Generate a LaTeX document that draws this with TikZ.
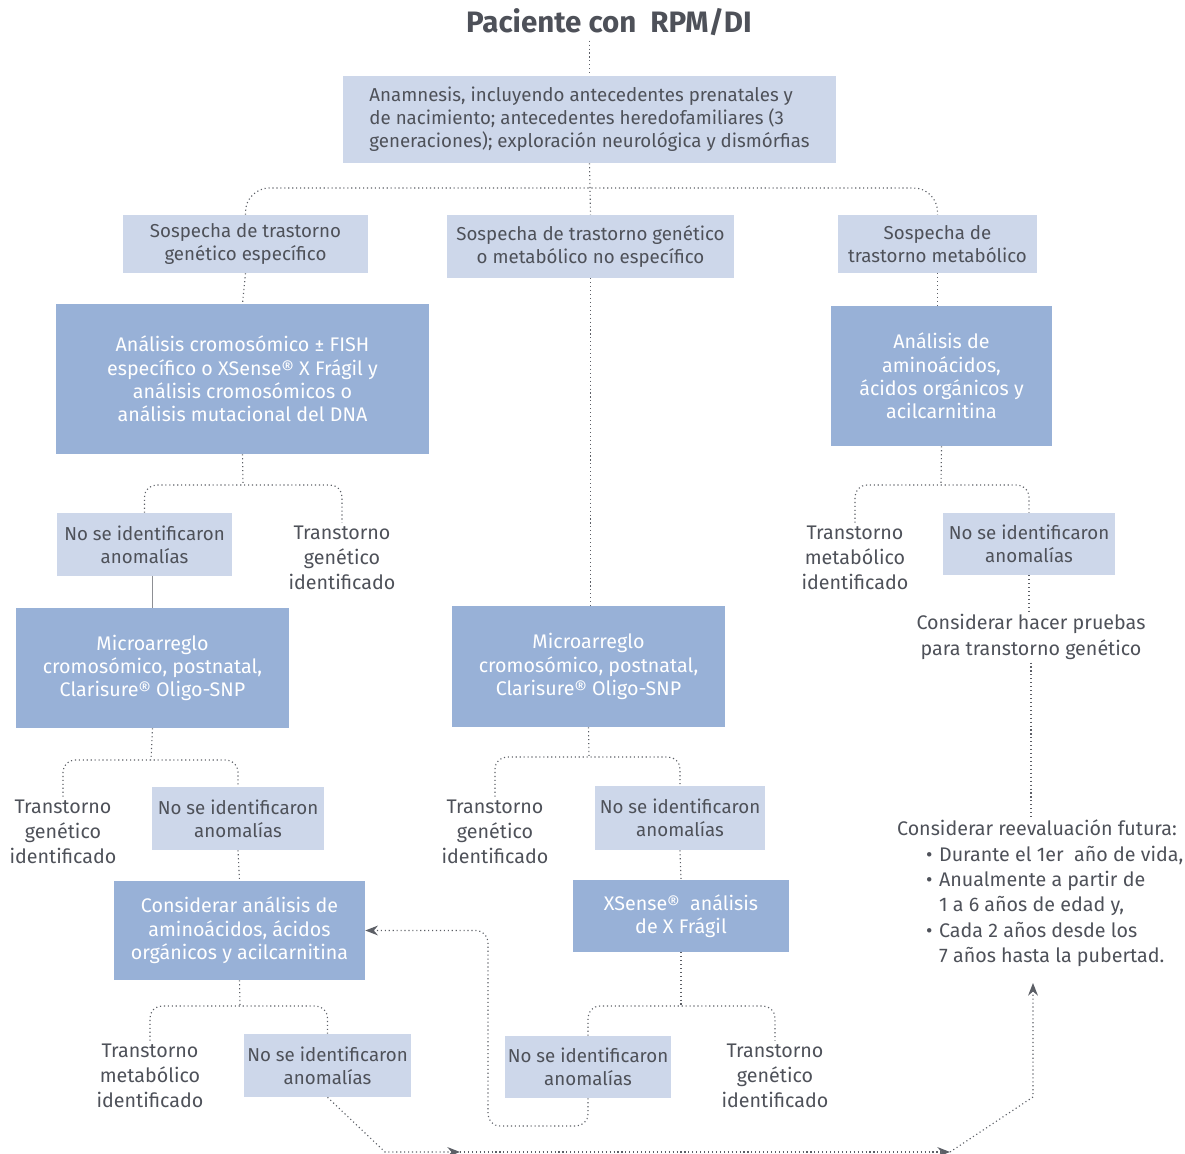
\documentclass[tikz,border=0pt]{standalone}
\usepackage{fontspec}
\setmainfont{Fira Sans}
\usetikzlibrary{arrows.meta}

\definecolor{boxlight}{HTML}{CDD7EA}
\definecolor{boxdark}{HTML}{98B1D7}
\definecolor{txtgray}{HTML}{4E5159}
\definecolor{lngray}{HTML}{5C5F66}

\begin{document}
\begin{tikzpicture}[x=0.025cm, y=-0.025cm,
    lbox/.style={fill=boxlight, text=txtgray, align=center, inner sep=2pt,
      font=\fontsize{13.3}{16.3}\selectfont},
    dbox/.style={fill=boxdark, text=white, align=center, inner sep=2pt,
      font=\fontsize{14}{16.6}\selectfont},
    lbl/.style={text=txtgray, align=center, inner sep=2pt,
      font=\fontsize{14}{18}\selectfont},
    dot/.style={lngray, line width=0.8pt, dash pattern=on 0.8pt off 2pt},
    fork/.style={dot, rounded corners=0.3cm},
    arr/.style={dot, -{Stealth[length=9pt, width=7pt]}},
  ]
  \useasboundingbox (0,0) rectangle (1185,1154);

  % top
  \node[text=txtgray, font=\fontsize{21}{24}\selectfont\bfseries] (title) at (609,22) {Paciente con\ \ RPM/DI};
  \node[lbox, align=left, minimum width=12.325cm, minimum height=2.175cm] (anam) at (589.5,119.5)
    {Anamnesis, incluyendo antecedentes prenatales y\\de nacimiento; antecedentes heredofamiliares (3\\generaciones); exploración neurológica y dismórfias};
  \draw[dot] (anam.north |- title.south) -- (anam.north);

  % sospecha row
  \node[lbox, minimum width=6.125cm, minimum height=1.45cm] (sosL) at (245.5,244) {Sospecha de trastorno\\genético específico};
  \node[lbox, minimum width=7.175cm, minimum height=1.575cm] (sosM) at (590.5,246.5) {Sospecha de trastorno genético\\o metabólico no específico};
  \node[lbox, minimum width=4.975cm, minimum height=1.45cm] (sosR) at (937.5,244) {Sospecha de\\trastorno metabólico};
  \coordinate (fork0) at (590,188);
  \draw[dot] (anam.south) -- (sosM.north);
  \draw[dot, rounded corners=0.6cm] (sosL.north) |- (fork0) -| (sosR.north);

  % left column
  \node[dbox, minimum width=9.325cm, minimum height=3.75cm] (anaL) at (242.5,379)
    {Análisis cromosómico ± FISH\\específico o XSense® X Frágil y\\análisis cromosómicos o\\análisis mutacional del DNA};
  \draw[dot] (sosL.south) -- (anaL.north);
  \node[lbox, minimum width=4.375cm, minimum height=1.575cm] (noL1) at (144.5,544.5) {No se identificaron\\anomalías};
  \node[lbl] (genL1) at (342,558) {Transtorno\\genético\\identificado};
  \coordinate (forkA) at (243,485);
  \draw[dot] (anaL.south) -- (forkA);
  \draw[fork] (noL1.north) |- (forkA) -| (genL1.north);

  \node[dbox, minimum width=6.825cm, minimum height=3cm] (micL) at (152.5,668)
    {Microarreglo\\cromosómico, postnatal,\\Clarisure® Oligo-SNP};
  \draw[lngray!70, line width=0.8pt] (noL1.south -| micL.north) -- (micL.north);
  \node[lbl] (genL2) at (63,832) {Transtorno\\genético\\identificado};
  \node[lbox, minimum width=4.3cm, minimum height=1.575cm] (noL2) at (238,818.5) {No se identificaron\\anomalías};
  \coordinate (forkC) at (151,760);
  \draw[dot] (micL.south) -- (forkC);
  \draw[fork] (genL2.north) |- (forkC) -| (noL2.north);

  \node[dbox, minimum width=6.275cm, minimum height=2.475cm] (conAna) at (239.5,930.5)
    {Considerar análisis de\\aminoácidos, ácidos\\orgánicos y acilcarnitina};
  \draw[dot] (noL2.south) -- (conAna.north);
  \node[lbl] (metL3) at (150,1076) {Transtorno\\metabólico\\identificado};
  \node[lbox, minimum width=4.125cm, minimum height=1.575cm] (noL3) at (327.5,1065.5) {No se identificaron\\anomalías};
  \coordinate (forkE) at (240,1006);
  \draw[dot] (conAna.south) -- (forkE);
  \draw[fork] (metL3.north) |- (forkE) -| (noL3.north);

  % middle column
  \node[dbox, minimum width=6.825cm, minimum height=3.025cm] (micM) at (588.5,666.5)
    {Microarreglo\\cromosómico, postnatal,\\Clarisure® Oligo-SNP};
  \draw[dot] (sosM.south) -- (sosM.south |- micM.north);
  \node[lbl] (genM2) at (495,832) {Transtorno\\genético\\identificado};
  \node[lbox, minimum width=4.25cm, minimum height=1.6cm] (noM2) at (680,818) {No se identificaron\\anomalías};
  \coordinate (forkD) at (589,757);
  \draw[dot] (micM.south) -- (forkD);
  \draw[fork] (genM2.north) |- (forkD) -| (noM2.north);

  \node[dbox, minimum width=5.4cm, minimum height=1.8cm] (xsen) at (681,916) {XSense®\ \ análisis\\de X Frágil};
  \draw[dot] (noM2.south) -- (xsen.north);
  \node[lbox, minimum width=4.1cm, minimum height=1.55cm] (noM3) at (588,1067) {No se identificaron\\anomalías};
  \node[lbl] (genM3) at (775,1076) {Transtorno\\genético\\identificado};
  \coordinate (forkF) at (681,1006);
  \draw[dot] (xsen.south) -- (forkF);
  \draw[fork] (noM3.north) |- (forkF) -| (genM3.north);

  % right column
  \node[dbox, minimum width=5.525cm, minimum height=3.5cm] (anaR) at (941.5,376)
    {Análisis de\\aminoácidos,\\ácidos orgánicos y\\acilcarnitina};
  \draw[dot] (sosR.south) -- (sosR.south |- anaR.north);
  \node[lbl] (metR1) at (855,558) {Transtorno\\metabólico\\identificado};
  \node[lbox, minimum width=4.3cm, minimum height=1.55cm] (noR1) at (1029,544) {No se identificaron\\anomalías};
  \coordinate (forkB) at (941,485);
  \draw[dot] (anaR.south) -- (forkB);
  \draw[fork] (metR1.north) |- (forkB) -| (noR1.north);

  \node[lbl] (conPru) at (1031,637) {Considerar hacer pruebas\\para transtorno genético};
  \draw[dot] (noR1.south) -- (noR1.south |- conPru.north);
  \node[lbl, align=left, anchor=north west] (reev) at (894,817)
    {Considerar reevaluación futura:\\
     \hspace*{0.725cm}\makebox[0.325cm][l]{•}Durante el 1er\ \ año de vida,\\
     \hspace*{0.725cm}\makebox[0.325cm][l]{•}Anualmente a partir de\\
     \hspace*{1.05cm}1 a 6 años de edad y,\\
     \hspace*{0.725cm}\makebox[0.325cm][l]{•}Cada 2 años desde los\\
     \hspace*{1.05cm}7 años hasta la pubertad.};
  \draw[dot] (conPru.south) -- (conPru.south |- reev.north);

  % return paths
  \coordinate (loopA) at (488,1126);
  \draw[arr, rounded corners=0.3cm] (noM3.south) |- (loopA) |- (conAna.east);
  \coordinate (btmL) at (385,1152);
  \coordinate (btmM) at (460,1152);
  \coordinate (btmR) at (950,1152);
  \coordinate (upR) at (1033,1097);
  \coordinate (reevIn) at (1033,983);
  \draw[arr] (noL3.south) -- (btmL) -- (btmM);
  \draw[arr] (btmM) -- (btmR);
  \draw[arr] (btmR) -- (upR) -- (reevIn);
\end{tikzpicture}
\end{document}
